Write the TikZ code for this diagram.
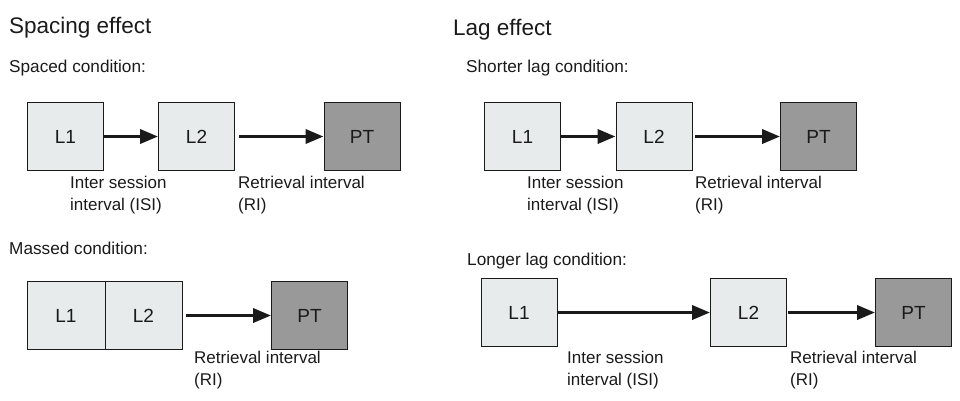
\documentclass[tikz,border=0pt]{standalone}
\usepackage{fontspec}
\setmainfont{Liberation Sans}
\usetikzlibrary{arrows.meta}
\definecolor{boxfill}{HTML}{E8EBEB}
\definecolor{ptfill}{HTML}{999999}
\definecolor{ink}{HTML}{1A1A1A}
\tikzset{
  lbox/.style={draw=ink, line width=0.9pt, fill=boxfill, minimum width=76pt, minimum height=68pt, inner sep=0pt, text=ink, font=\fontsize{19}{22}\selectfont},
  ptbox/.style={lbox, fill=ptfill},
  flow/.style={draw=ink, line width=3.5pt, -{Triangle[length=18pt,width=14pt]}},
  heading/.style={anchor=base west, inner sep=0pt, text=ink, font=\fontsize{22.5}{26}\selectfont},
  subhead/.style={anchor=base west, inner sep=0pt, text=ink, font=\fontsize{17.2}{20}\selectfont},
  lbl/.style={anchor=base west, inner sep=0pt, text=ink, align=left, font=\fontsize{17}{22}\selectfont},
}
\begin{document}
\begin{tikzpicture}[x=1pt,y=-1pt]
\useasboundingbox (0,0) rectangle (960,400);
% ---- Spacing effect ----
\node[heading] (t1) at (9,33) {Spacing effect};
\node[subhead] (s1) at (9,72) {Spaced condition:};
\node[lbox] (a1) at (65.5,136.5) {L1};
\node[lbox] (a2) at (196.5,136.5) {L2};
\node[ptbox] (a3) at (362,136.5) {PT};
\draw[flow] (a1.east) -- (a2.west);
\coordinate (a2s) at ([xshift=4pt]a2.east);
\draw[flow] (a2s) -- (a3.west);
% base anchor of a two-line label is the baseline of its second line
\node[lbl] (a4) at (70,210) {Inter session\\interval (ISI)};
\node[lbl] (a5) at (238,210) {Retrieval interval\\(RI)};

\node[subhead] (s2) at (9,254) {Massed condition:};
\node[lbox, minimum width=78pt] (b1) at (66,315.5) {L1};
\node[lbox, minimum width=77pt] (b2) at (143.5,315.5) {L2};
\node[ptbox] (b3) at (309.5,315.5) {PT};
\coordinate (b2s) at ([xshift=4pt]b2.east);
\draw[flow] (b2s) -- (b3.west);
\node[lbl] (b5) at (194,385) {Retrieval interval\\(RI)};

% ---- Lag effect ----
\node[heading] (t2) at (453,35) {Lag effect};
\node[subhead] (s3) at (466,72) {Shorter lag condition:};
\node[lbox] (c1) at (522.5,136.5) {L1};
\node[lbox] (c2) at (654,136.5) {L2};
\node[ptbox] (c3) at (818.5,136.5) {PT};
\draw[flow] (c1.east) -- (c2.west);
\coordinate (c2s) at ([xshift=3pt]c2.east);
\draw[flow] (c2s) -- (c3.west);
\node[lbl] (c4) at (527,210) {Inter session\\interval (ISI)};
\node[lbl] (c5) at (695,210) {Retrieval interval\\(RI)};

\node[subhead] (s4) at (467,265) {Longer lag condition:};
\node[lbox] (d1) at (519,312.5) {L1};
\node[lbox] (d2) at (748.5,312.5) {L2};
\node[ptbox] (d3) at (913.5,312.5) {PT};
\draw[flow] (d1.east) -- (d2.west);
\coordinate (d2s) at ([xshift=1pt]d2.east);
\draw[flow] (d2s) -- (d3.west);
\node[lbl] (d4) at (567,385) {Inter session\\interval (ISI)};
\node[lbl] (d5) at (790,385) {Retrieval interval\\(RI)};
\end{tikzpicture}
\end{document}
